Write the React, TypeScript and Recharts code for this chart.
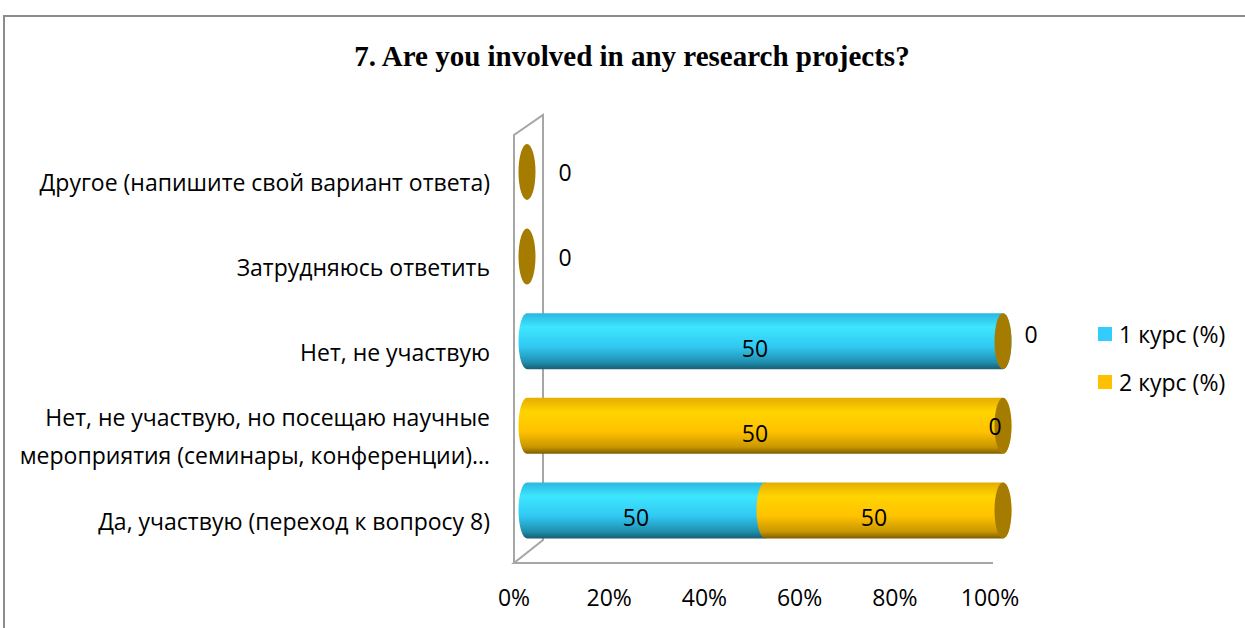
import React from 'react';
import { BarChart, Bar, XAxis, YAxis, LabelList } from 'recharts';

const title = '7. Are you involved in any research projects?';
const categories = [
  'Другое (напишите свой вариант ответа)',
  'Затрудняюсь ответить',
  'Нет, не участвую',
  'Нет, не участвую, но посещаю научные\nмероприятия (семинары, конференции)…',
  'Да, участвую (переход к вопросу 8)',
];
const course1 = [0, 0, 50, 0, 50];
const course2 = [0, 0, 0, 50, 50];
const seriesNames = ['1 курс (%)', '2 курс (%)'];
const xTicks = [0, 0.2, 0.4, 0.6, 0.8, 1];
const xTickLabels = ['0%', '20%', '40%', '60%', '80%', '100%'];

const data = categories.map((name, i) => ({ name, c1: course1[i], c2: course2[i] }));

const W = 1245;
const H = 628;
const PLOT_LEFT = 527;
const PLOT_RIGHT = 1003;
const PLOT_TOP = 130;
const X_AXIS_H = 75;
const PLOT_BOTTOM = H - X_AXIS_H;
const FONT = '"Open Sans", "Noto Sans", sans-serif';
const FS = 23;
const CYAN = '#33CCFF';
const GOLD = '#FFC000';
const GOLD_CAP = '#A67C00';

const cylinder = (grad: string, isLast: boolean) => (props: any) => {
  const { x, y, width, height } = props;
  if (![x, y, width, height].every((v) => Number.isFinite(v))) return <g />;
  const rx = 8.5;
  const ry = height / 2;
  const cy = y + height / 2;
  return (
    <g>
      {width > 0.5 && (
        <path
          d={`M${x},${y} L${x + width},${y} A${rx},${ry} 0 0 1 ${x + width},${y + height} L${x},${y + height} A${rx},${ry} 0 0 1 ${x},${y} Z`}
          fill={`url(#${grad})`}
        />
      )}
      {isLast && <ellipse cx={x + width} cy={cy} rx={rx} ry={ry} fill={GOLD_CAP} />}
    </g>
  );
};

const getBox = (p: any) => {
  const vb = p.viewBox || {};
  return {
    x: Number.isFinite(p.x) ? p.x : vb.x,
    y: Number.isFinite(p.y) ? p.y : vb.y,
    width: Number.isFinite(p.width) ? p.width : vb.width,
    height: Number.isFinite(p.height) ? p.height : vb.height,
  };
};

const txt = (x: number, y: number, s: string, key?: string) => (
  <text key={key} x={x} y={y} textAnchor="middle" dominantBaseline="central" fontFamily={FONT} fontSize={FS} fill="#000">
    {s}
  </text>
);

const label1 = (p: any) => {
  const { x, y, width, height } = getBox(p);
  const v = Number(p.value);
  if (!v) return null;
  return txt(x + width / 2 - 10, y + height / 2 + 7, String(v));
};

const label2 = (p: any) => {
  const { x, y, width, height } = getBox(p);
  const v = Number(p.value);
  const row = data[p.index];
  const cy = y + height / 2;
  const out: any[] = [];
  if (v) {
    out.push(txt(x + width / 2 - 10, cy + 7, String(v), 'a'));
    if (row && row.c1 === 0) out.push(txt(x + width - 8, cy, String(row.c1), 'b'));
  } else if (row && row.c1 + row.c2 === 0) {
    out.push(txt(x + 38, cy, String(v), 'a'));
  } else {
    out.push(txt(x + 28, cy - 7, String(v), 'a'));
  }
  return <g>{out}</g>;
};

const YTick = (p: any) => {
  const { x, y, payload } = p;
  const lines = String(payload.value).split('\n');
  const lh = 38;
  const start = y + 10 - ((lines.length - 1) * lh) / 2;
  return (
    <g>
      {lines.map((l, i) => (
        <text key={i} x={x} y={start + i * lh} textAnchor="end" dominantBaseline="central" fontFamily={FONT} fontSize={FS} fill="#000">
          {l}
        </text>
      ))}
    </g>
  );
};

const XTick = (p: any) => {
  const { x, y, payload } = p;
  const idx = xTicks.indexOf(payload.value);
  return (
    <text x={x - 13} y={y + 44} textAnchor="middle" dominantBaseline="central" fontFamily={FONT} fontSize={FS} fill="#000">
      {idx >= 0 ? xTickLabels[idx] : ''}
    </text>
  );
};

export default function App() {
  const fx = PLOT_LEFT - 13;
  const bx = PLOT_LEFT + 16;
  const frontTop = PLOT_TOP + 5;
  const backTop = PLOT_TOP - 15;
  const frontBottom = PLOT_BOTTOM + 10;
  const backBottom = PLOT_BOTTOM - 13;
  const floorEnd = PLOT_RIGHT - 10;
  return (
    <div style={{ position: 'absolute', left: 0, top: 0, width: W, height: H, overflow: 'hidden', background: '#fff' }}>
      <div style={{ position: 'absolute', left: 3, top: 15, width: W + 20, height: H + 20, border: '2px solid #8c8c8c', boxSizing: 'border-box' }} />
      <svg style={{ position: 'absolute', left: 0, top: 0 }} width={W} height={H}>
        <g stroke="#a6a6a6" strokeWidth={2} fill="none">
          <polyline points={`${fx},${frontBottom} ${fx},${frontTop} ${bx},${backTop} ${bx},${backBottom} ${fx},${frontBottom} ${floorEnd},${frontBottom}`} />
        </g>
      </svg>
      <div
        style={{
          position: 'absolute',
          left: 0,
          top: 38,
          width: 1264,
          textAlign: 'center',
          fontFamily: '"Liberation Serif", "DejaVu Serif", serif',
          fontWeight: 'bold',
          fontSize: 29,
          lineHeight: '36px',
          color: '#000',
        }}
      >
        {title}
      </div>
      <div style={{ position: 'absolute', left: 1098, top: 310, fontFamily: FONT, fontSize: FS, color: '#000' }}>
        {seriesNames.map((n, i) => (
          <div key={n} style={{ display: 'flex', alignItems: 'center', height: 48 }}>
            <span style={{ display: 'inline-block', width: 14, height: 14, background: i === 0 ? CYAN : GOLD, marginRight: 7 }} />
            <span>{n}</span>
          </div>
        ))}
      </div>
      <div style={{ position: 'absolute', left: 0, top: 0 }}>
        <BarChart
          width={W}
          height={H}
          data={data}
          layout="vertical"
          stackOffset="expand"
          margin={{ top: PLOT_TOP, right: W - PLOT_RIGHT, bottom: 0, left: 0 }}
        >
          <defs>
            <linearGradient id="gCyan" x1="0" y1="0" x2="0" y2="1">
              <stop offset="0%" stopColor="#2AB6E0" />
              <stop offset="25%" stopColor="#3DE6FF" />
              <stop offset="60%" stopColor="#31C8F2" />
              <stop offset="88%" stopColor="#1F8EAE" />
              <stop offset="100%" stopColor="#175E72" />
            </linearGradient>
            <linearGradient id="gGold" x1="0" y1="0" x2="0" y2="1">
              <stop offset="0%" stopColor="#E6AC00" />
              <stop offset="25%" stopColor="#FFD400" />
              <stop offset="60%" stopColor="#FFC200" />
              <stop offset="88%" stopColor="#C99600" />
              <stop offset="100%" stopColor="#7E5E00" />
            </linearGradient>
          </defs>
          <XAxis
            type="number"
            domain={[0, 1]}
            ticks={xTicks}
            height={X_AXIS_H}
            axisLine={false}
            tickLine={false}
            tickSize={0}
            tickMargin={0}
            tick={<XTick />}
            interval={0}
          />
          <YAxis
            type="category"
            dataKey="name"
            width={PLOT_LEFT}
            axisLine={false}
            tickLine={false}
            tickSize={0}
            tickMargin={37}
            tick={<YTick />}
            interval={0}
          />
          <Bar dataKey="c1" name={seriesNames[0]} stackId="s" fill={CYAN} barSize={56} isAnimationActive={false} shape={cylinder('gCyan', false)}>
            <LabelList dataKey="c1" content={label1} />
          </Bar>
          <Bar dataKey="c2" name={seriesNames[1]} stackId="s" fill={GOLD} barSize={56} isAnimationActive={false} shape={cylinder('gGold', true)}>
            <LabelList dataKey="c2" content={label2} />
          </Bar>
        </BarChart>
      </div>
    </div>
  );
}
